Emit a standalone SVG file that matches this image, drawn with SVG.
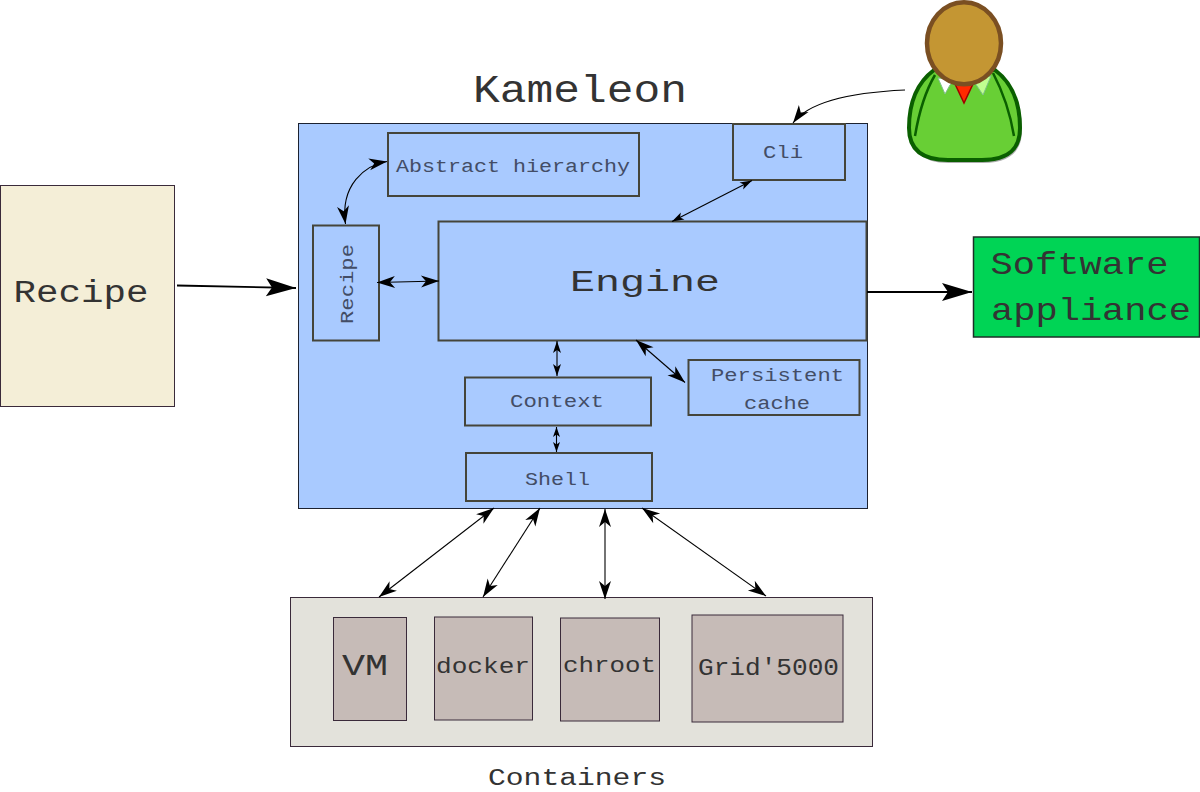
<svg xmlns="http://www.w3.org/2000/svg" width="1200" height="792" viewBox="0 0 1200 792">
<style>
text{font-family:"Liberation Mono","Courier New",monospace;fill:#333;text-anchor:middle}
.in{fill:#434d66;font-size:19px}
.b{stroke:#45453a;stroke-width:2;fill:#a9caff}
.o{stroke:#3a2a3a;stroke-width:1}
.g{fill:#c6bbb7}
.a{fill:none;stroke:#000;stroke-width:1.1}
.w{stroke-width:1.900}
.m{marker-start:url(#med);marker-end:url(#med)}
.t{marker-start:url(#tiny);marker-end:url(#tiny)}
.n{marker-start:url(#nano);marker-end:url(#nano)}
</style>
<defs>
<marker id="big" markerUnits="userSpaceOnUse" markerWidth="36" markerHeight="24" refX="32" refY="12" orient="auto" viewBox="0 0 36 24"><path d="M32 12L2 3L8 12L2 21Z" fill="#000"/></marker>
<marker id="med" markerUnits="userSpaceOnUse" markerWidth="24" markerHeight="18" refX="20" refY="9" orient="auto-start-reverse" viewBox="0 0 24 18"><path d="M20 9L2 3L7 9L2 15Z" fill="#000"/></marker>
<marker id="tiny" markerUnits="userSpaceOnUse" markerWidth="18" markerHeight="14" refX="14" refY="7" orient="auto-start-reverse" viewBox="0 0 18 14"><path d="M14 7L2 3L5 7L2 11Z" fill="#000"/></marker>
<marker id="nano" markerUnits="userSpaceOnUse" markerWidth="14" markerHeight="10" refX="12" refY="5" orient="auto-start-reverse" viewBox="0 0 14 10"><path d="M12 5L2 1.500L4.500 5L2 8.500Z" fill="#000"/></marker>
</defs>

<g id="kameleon">
<rect x="298.500" y="123.500" width="569" height="385" fill="#a9caff" stroke="#1c2230" stroke-width="1"/>
<text x="580" y="102" font-size="38" textLength="214" lengthAdjust="spacingAndGlyphs">Kameleon</text>
</g>
<g id="recipe-input">
<rect x="0.500" y="185.500" width="174" height="221" fill="#f4eed7" class="o"/>
<text x="81" y="302" font-size="31" textLength="135" lengthAdjust="spacingAndGlyphs">Recipe</text>
</g>
<g id="abstract-hierarchy">
<rect class="b" x="388" y="133" width="251" height="63"/>
<text class="in" x="513" y="172" textLength="234" lengthAdjust="spacingAndGlyphs">Abstract hierarchy</text>
</g>
<g id="cli">
<rect class="b" x="733" y="124" width="112" height="56"/>
<text class="in" x="783" y="158" textLength="40" lengthAdjust="spacingAndGlyphs">Cli</text>
</g>
<g id="recipe">
<rect class="b" x="313" y="225.500" width="66" height="115"/>
<text class="in" transform="translate(352.500 284) rotate(-90)" textLength="80" lengthAdjust="spacingAndGlyphs">Recipe</text>
</g>
<g id="engine">
<rect class="b" x="438.500" y="221.500" width="428" height="119"/>
<text x="645" y="291" font-size="29" textLength="150" lengthAdjust="spacingAndGlyphs">Engine</text>
</g>
<g id="context">
<rect class="b" x="465" y="377.500" width="186" height="48"/>
<text class="in" x="557" y="407" textLength="94" lengthAdjust="spacingAndGlyphs">Context</text>
</g>
<g id="persistent-cache">
<rect class="b" x="688.500" y="360" width="171" height="55"/>
<text class="in" x="777.500" y="381" textLength="133" lengthAdjust="spacingAndGlyphs">Persistent</text>
<text class="in" x="777" y="408.500" textLength="66" lengthAdjust="spacingAndGlyphs">cache</text>
</g>
<g id="shell">
<rect class="b" x="466" y="453" width="186" height="48"/>
<text class="in" x="557.500" y="485" textLength="65" lengthAdjust="spacingAndGlyphs">Shell</text>
</g>
<g id="software-appliance">
<rect x="973.500" y="237" width="226" height="100" fill="#00d455" stroke="#1c3028" stroke-width="1.500"/>
<text x="1079.500" y="274" font-size="32" textLength="178" lengthAdjust="spacingAndGlyphs">Software</text>
<text x="1091" y="320" font-size="32" textLength="200" lengthAdjust="spacingAndGlyphs">appliance</text>
</g>
<g id="containers">
<rect x="290.500" y="597.500" width="582" height="149" fill="#e3e2db" class="o"/>
<text x="577" y="785" font-size="23" textLength="178" lengthAdjust="spacingAndGlyphs">Containers</text>
</g>
<g id="vm">
<rect x="333.500" y="617.500" width="73" height="103" class="g o"/>
<text x="365" y="675" font-size="30" textLength="46" lengthAdjust="spacingAndGlyphs">VM</text>
</g>
<g id="docker">
<rect x="434.500" y="617" width="98" height="103" class="g o"/>
<text x="483" y="673" font-size="22" textLength="94" lengthAdjust="spacingAndGlyphs">docker</text>
</g>
<g id="chroot">
<rect x="560.500" y="618" width="99" height="103" class="g o"/>
<text x="609.500" y="672" font-size="22" textLength="93" lengthAdjust="spacingAndGlyphs">chroot</text>
</g>
<g id="grid5000">
<rect x="692" y="615" width="151" height="107" class="g o"/>
<text x="768.500" y="675" font-size="23" textLength="141" lengthAdjust="spacingAndGlyphs">Grid'5000</text>
</g>
<g id="user">
<path d="M935 72C919 84 910 104 910 130C910 150 921 163 949 163L983 163C1011 163 1022 150 1022 130C1022 104 1012 84 996 72Z" fill="#777" opacity=".6"/>
<path d="M934 70C918 82 909 102 909 128C909 148 920 160 948 160L982 160C1010 160 1020 148 1020 128C1020 102 1011 82 995 70Z" fill="#68cf35" stroke="#0a5f00" stroke-width="4"/>
<path d="M915 136C919 112 925 92 935 75M1014 136C1010 112 1003 92 993 73" fill="none" stroke="#0a5f00" stroke-width="2.500"/>
<path d="M938 78L945 94L950 85L955 80Z" fill="#fff" stroke="#7fc08a" stroke-width="1"/>
<path d="M991 76L983 95L977 86L973 80Z" fill="#c0ff90" stroke="#7fc08a" stroke-width="1"/>
<path d="M955 84L964 103L973 84Z" fill="#ff2a00" stroke="#a00000" stroke-width="1.500"/>
<ellipse cx="964" cy="43.300" rx="37" ry="41" fill="#c49633" stroke="#7a4f22" stroke-width="4.500"/>
</g>
<g id="connectors">
<path class="a w" d="M177 285.500L296 288" marker-end="url(#big)"/>
<path class="a w" d="M867 292L972 292" marker-end="url(#big)"/>
<path class="a" d="M905 90C860 92 810 100 793 123" marker-end="url(#med)"/>
<path class="a m" d="M387 161.500C365 165 340 185 345.500 224"/>
<path class="a m" d="M377 282.500L439 281"/>
<path class="a t" d="M752 180.500L672 221.500"/>
<path class="a t" d="M557 341L557 376"/>
<path class="a m" d="M636 340L685 382.500"/>
<path class="a n" d="M556.500 427L556.500 452"/>
<path class="a m" d="M494 508L379 597"/>
<path class="a m" d="M540 508L483 597"/>
<path class="a m" d="M605 509L605 599"/>
<path class="a m" d="M642 508L766 596"/>
</g>
</svg>
